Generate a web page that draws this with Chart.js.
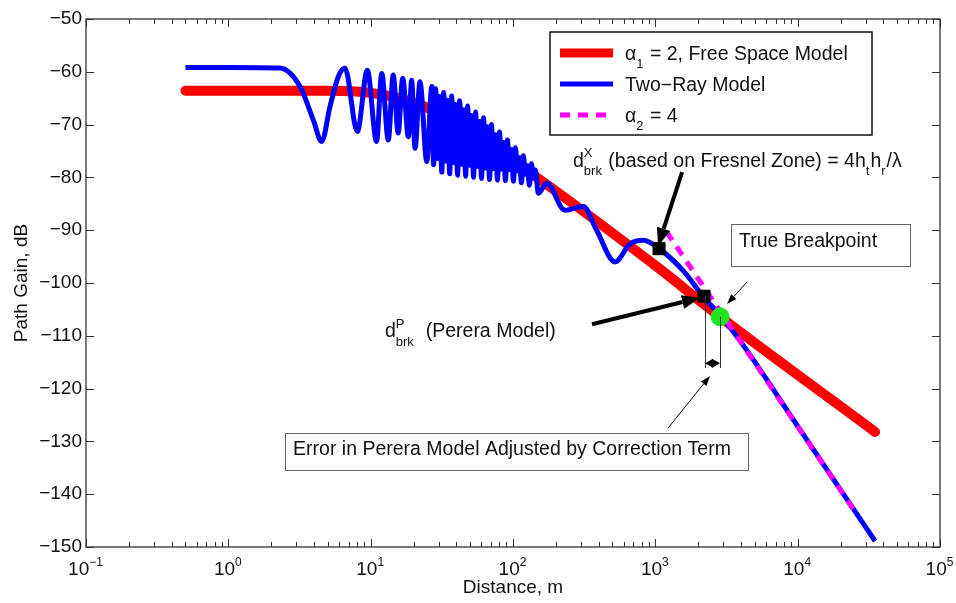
<!DOCTYPE html>
<html>
<head>
<meta charset="utf-8">
<script src="https://cdn.jsdelivr.net/npm/chart.js@4.4.1/dist/chart.umd.min.js"></script>
<style>
  html, body { margin: 0; padding: 0; background: #fff; }
  #wrap { width: 956px; height: 603px; }
</style>
</head>
<body>
<div id="wrap"><canvas id="gainChart" width="956" height="603"></canvas></div>
<script>
/************ DATA ************/
const FONT = '"Liberation Sans", Arial, Helvetica, sans-serif';

// free space model (alpha1 = 2)
const freeSpaceDist = [0.5, 2, 5, 10, 20, 30, 50, 100, 1000, 2850, 35000];
const freeSpaceGain = [-63.6, -63.6, -63.6, -64.0, -65.8, -67.8, -71.5, -76.8, -96.7, -106.4, -128.2];

// two-ray model
const twoRayDist = [
  0.5, 1, 2.3, 3.19, 3.95, 4.53, 5.18, 5.93, 6.6, 8.06, 9.47, 11.0, 11.96, 13.3,
  14.4, 15.6, 16.8, 18.4, 19.4, 20.5, 22.2, 24.8, 26.9,
  27.7, 28.6, 29.6, 30.5, 31.6, 32.6, 33.7, 34.8, 35.9, 37.1, 38.3, 39.5, 40.8, 42.2,
  43.6, 45.0, 46.5, 48.0, 49.5, 51.2, 52.8, 54.6, 56.4, 58.2, 60.1, 62.1, 64.1, 66.2,
  68.4, 70.6, 72.9, 75.3, 77.8, 80.4, 83.0, 85.7, 88.5, 91.4, 94.4, 97.5, 100.7, 104.0,
  107.4, 110.9, 114.6, 118.3, 122.2, 126.2, 130.3, 134.6, 139.0, 143.6, 150.7,
  172.6, 231.7, 311.9, 387, 521, 664, 824, 1052, 1585, 2173, 2850, 4000, 10000, 35000
];
const twoRayGain = [
  -59.2, -59.2, -59.3, -62.8, -69.1, -73.2, -66.6, -60.9, -59.3, -71.3, -59.7, -73.2, -60.3, -72.9,
  -60.6, -71.6, -61.2, -72.3, -61.6, -74.5, -61.9, -77.0, -62.8,
  -77.6, -63.2, -76.4, -64.7, -79.0, -63.9, -76.9, -65.4, -79.3, -64.6, -77.2, -66.2, -79.6, -65.5,
  -77.5, -67.2, -79.8, -66.5, -77.7, -68.3, -80.0, -67.6, -77.9, -69.4, -80.2, -68.7, -78.2, -70.4,
  -80.4, -70.0, -78.3, -71.9, -80.5, -71.4, -78.4, -73.4, -80.6, -72.9, -78.5, -74.7, -80.7, -74.4,
  -78.8, -76.3, -81.0, -75.9, -79.4, -77.8, -81.5, -77.4, -80.1, -78.6, -83.0,
  -81.1, -86.2, -85.5, -90.0, -96.0, -92.6, -91.9, -93.4, -97.8, -102.6, -106.1, -111.2, -127.1, -148.9
];

// alpha2 = 4 slope
const alpha4Dist = [1200, 25000];
const alpha4Gain = [-90.3, -143.1];

// breakpoint markers
const brkDist = [1062, 2198];
const brkGain = [-93.5, -102.5];
const trueBrkDist = [2850];
const trueBrkGain = [-106.4];

// axes
const xMajorTicks = [0.1, 1, 10, 100, 1000, 10000, 100000];
const xTickExp = ['\u22121', '0', '1', '2', '3', '4', '5'];
const yTicks = [-150, -140, -130, -120, -110, -100, -90, -80, -70, -60, -50];

const xTickValues = [];
xMajorTicks.forEach((v, i) => {
  xTickValues.push(v);
  if (i < xMajorTicks.length - 1) {
    for (let m = 2; m <= 9; m++) xTickValues.push(+(v * m).toPrecision(3));
  }
});

/************ ANNOTATIONS (data coords) ************/
const NOTE_SIZE = 19.5;
const textLabels = [
  { x: 264, y: -78.0, segs: [{ t: 'd' }, { sup: 'X', sub: 'brk' }, { t: ' (based on Fresnel Zone) = 4h' }, { sub: 't' }, { t: 'h' }, { sub: 'r' }, { t: '/λ' }] },
  { x: 12.6, y: -110.3, segs: [{ t: 'd' }, { sup: 'P', sub: 'brk' }, { t: '  (Perera Model)' }] },
  { x: 3873, y: -93.2, segs: [{ t: 'True Breakpoint' }], box: [3404, -88.8, 61500, -96.8] },
  { x: 2.85, y: -132.6, segs: [{ t: 'Error in Perera Model Adjusted by Correction Term' }], box: [2.5, -128.4, 4477, -135.4] },
];
const arrows = [
  { from: [1542, -79.0], to: [1045, -93.0], w: 4, head: 18, hw: 14 },
  { from: [359, -107.8], to: [2061, -102.8], w: 4, head: 18, hw: 14 },
  { from: [4406, -99.8], to: [3192, -104.0], w: 1, head: 10, hw: 7 },
  { from: [1228, -127.5], to: [2421, -117.6], w: 1, head: 10, hw: 7 },
  { from: [2540, -115.2], to: [2234, -115.2], w: 1, head: 8, hw: 9 },
  { from: [2540, -115.2], to: [2850, -115.2], w: 1, head: 8, hw: 9 },
];
const guides = [
  [[2234, -102.5], [2234, -116.1]],
  [[2850, -106.4], [2850, -116.1]],
];

const pts = (xs, ys) => xs.map((x, i) => ({ x, y: ys[i] }));

/************ HELPERS ************/
function drawRich(ctx, segs, x, y, size, measureOnly) {
  let cx = x;
  const big = size + 'px ' + FONT;
  const small = Math.round(size * 0.65) + 'px ' + FONT;
  ctx.textAlign = 'left';
  ctx.textBaseline = 'alphabetic';
  segs.forEach(s => {
    if (s.t !== undefined) {
      ctx.font = big;
      if (!measureOnly) ctx.fillText(s.t, cx, y);
      cx += ctx.measureText(s.t).width;
      return;
    }
    ctx.font = small;
    let w = 0;
    if (s.sup) {
      if (!measureOnly) ctx.fillText(s.sup, cx, y - size * 0.5);
      w = ctx.measureText(s.sup).width;
    }
    if (s.sub) {
      if (!measureOnly) ctx.fillText(s.sub, cx, y + size * 0.42);
      w = Math.max(w, ctx.measureText(s.sub).width);
    }
    cx += w + 1;
  });
  return cx - x;
}

function drawArrow(ctx, x0, y0, x1, y1, w, headLen, headW) {
  const ang = Math.atan2(y1 - y0, x1 - x0);
  const bx = x1 - headLen * Math.cos(ang);
  const by = y1 - headLen * Math.sin(ang);
  ctx.lineWidth = w;
  ctx.beginPath();
  ctx.moveTo(x0, y0);
  ctx.lineTo(bx, by);
  ctx.stroke();
  ctx.beginPath();
  ctx.moveTo(x1, y1);
  ctx.lineTo(bx + (headW / 2) * Math.sin(ang), by - (headW / 2) * Math.cos(ang));
  ctx.lineTo(bx - (headW / 2) * Math.sin(ang), by + (headW / 2) * Math.cos(ang));
  ctx.closePath();
  ctx.fill();
}

/************ PLUGINS ************/
const frameTicks = {
  id: 'frameTicks',
  afterDraw(chart) {
    const { ctx, chartArea: a, scales: { x, y } } = chart;
    ctx.save();
    ctx.strokeStyle = '#333';
    ctx.lineWidth = 1.3;
    ctx.strokeRect(a.left, a.top, a.right - a.left, a.bottom - a.top);
    ctx.lineWidth = 1;
    ctx.beginPath();
    x.ticks.forEach(t => {
      const px = Math.round(x.getPixelForValue(t.value)) + 0.5;
      const len = xMajorTicks.includes(t.value) ? 8 : 5;
      ctx.moveTo(px, a.bottom); ctx.lineTo(px, a.bottom - len);
      ctx.moveTo(px, a.top); ctx.lineTo(px, a.top + len);
    });
    y.ticks.forEach(t => {
      const py = Math.round(y.getPixelForValue(t.value)) + 0.5;
      ctx.moveTo(a.left, py); ctx.lineTo(a.left + 8, py);
      ctx.moveTo(a.right, py); ctx.lineTo(a.right - 8, py);
    });
    ctx.stroke();
    // x tick labels: 10 with superscript exponent
    ctx.fillStyle = '#111';
    xMajorTicks.forEach((v, i) => {
      const segs = [{ t: '10' }, { sup: xTickExp[i] }];
      const w = drawRich(ctx, segs, 0, 0, 19, true);
      drawRich(ctx, segs, x.getPixelForValue(v) - w / 2, a.bottom + 28, 19);
    });
    ctx.restore();
  }
};

const notes = {
  id: 'notes',
  afterDatasetsDraw(chart) {
    const { ctx, scales: { x, y } } = chart;
    const px = v => x.getPixelForValue(v);
    const py = v => y.getPixelForValue(v);
    ctx.save();
    ctx.strokeStyle = '#333';
    ctx.lineWidth = 1;
    guides.forEach(g => {
      ctx.beginPath();
      ctx.moveTo(Math.round(px(g[0][0])) + 0.5, py(g[0][1]));
      ctx.lineTo(Math.round(px(g[1][0])) + 0.5, py(g[1][1]));
      ctx.stroke();
    });
    ctx.strokeStyle = '#000';
    ctx.fillStyle = '#000';
    arrows.forEach(ar => {
      drawArrow(ctx, px(ar.from[0]), py(ar.from[1]), px(ar.to[0]), py(ar.to[1]), ar.w, ar.head, ar.hw);
    });
    textLabels.forEach(l => {
      if (l.box) {
        const bx0 = px(l.box[0]), by0 = py(l.box[1]), bx1 = px(l.box[2]), by1 = py(l.box[3]);
        ctx.fillStyle = '#fff';
        ctx.fillRect(bx0, by0, bx1 - bx0, by1 - by0);
        ctx.strokeStyle = '#666';
        ctx.lineWidth = 1;
        ctx.strokeRect(Math.round(bx0) + 0.5, Math.round(by0) + 0.5, Math.round(bx1 - bx0), Math.round(by1 - by0));
      }
      ctx.fillStyle = '#111';
      drawRich(ctx, l.segs, px(l.x), py(l.y), NOTE_SIZE);
    });
    ctx.restore();
  }
};

const legendBox = {
  id: 'legendBox',
  afterDraw(chart) {
    const { ctx, chartArea: a } = chart;
    const w = 322, h = 103;
    const right = a.right - 68, top = a.top + 13, left = right - w;
    ctx.save();
    ctx.fillStyle = '#fff';
    ctx.fillRect(left, top, w, h);
    ctx.strokeStyle = '#111';
    ctx.lineWidth = 1.5;
    ctx.strokeRect(left, top, w, h);
    chart.data.datasets.filter(d => d.legendSegs).forEach((d, i) => {
      const yy = top + 21 + i * 31;
      ctx.strokeStyle = d.borderColor;
      ctx.lineWidth = d.legendWidth || d.borderWidth;
      ctx.setLineDash(d.borderDash || []);
      ctx.lineCap = 'butt';
      ctx.beginPath();
      ctx.moveTo(left + 10, yy);
      ctx.lineTo(left + 63, yy);
      ctx.stroke();
      ctx.setLineDash([]);
      ctx.fillStyle = '#111';
      drawRich(ctx, d.legendSegs, left + 75, yy + 7, 19.5);
    });
    ctx.restore();
  }
};

/************ CHART ************/
const gainCtx = document.getElementById('gainChart').getContext('2d');
const gainChart = new Chart(gainCtx, {
  type: 'line',
  data: {
    datasets: [
      {
        label: 'α₁ = 2, Free Space Model',
        legendSegs: [{ t: 'α' }, { sub: '1' }, { t: ' = 2, Free Space Model' }],
        data: pts(freeSpaceDist, freeSpaceGain),
        borderColor: '#ff0000',
        borderWidth: 10,
        legendWidth: 9,
        borderCapStyle: 'round',
        borderJoinStyle: 'round',
        pointRadius: 0,
        cubicInterpolationMode: 'monotone',
        order: 3,
      },
      {
        label: 'Two−Ray Model',
        legendSegs: [{ t: 'Two−Ray Model' }],
        data: pts(twoRayDist, twoRayGain),
        borderColor: '#0000ff',
        borderWidth: 5,
        borderCapStyle: 'butt',
        borderJoinStyle: 'round',
        pointRadius: 0,
        cubicInterpolationMode: 'monotone',
        order: 2,
      },
      {
        label: 'α₂ = 4',
        legendSegs: [{ t: 'α' }, { sub: '2' }, { t: ' = 4' }],
        data: pts(alpha4Dist, alpha4Gain),
        borderColor: '#ff00ff',
        borderWidth: 5,
        borderDash: [10, 8],
        pointRadius: 0,
        order: 1,
      },
      {
        label: 'breakpoints',
        data: pts(brkDist, brkGain),
        showLine: false,
        pointStyle: 'rect',
        pointRadius: 8.5,
        pointBackgroundColor: '#000',
        pointBorderColor: '#000',
        order: 0,
      },
      {
        label: 'true breakpoint',
        data: pts(trueBrkDist, trueBrkGain),
        showLine: false,
        pointStyle: 'circle',
        pointRadius: 9,
        pointBackgroundColor: '#1ee61e',
        pointBorderColor: '#1ee61e',
        order: 0,
      },
    ],
  },
  options: {
    responsive: false,
    animation: false,
    devicePixelRatio: 1,
    layout: { padding: { left: 0, right: 16, top: 19, bottom: 0 } },
    plugins: {
      legend: { display: false },
      tooltip: { enabled: false },
    },
    scales: {
      x: {
        type: 'logarithmic',
        min: 0.1,
        max: 100000,
        afterBuildTicks: s => { s.ticks = xTickValues.map(v => ({ value: v })); },
        afterFit: s => { s.height = 56; s.paddingLeft = 0; s.paddingRight = 0; },
        grid: { display: false, drawTicks: false },
        border: { display: false },
        ticks: { display: false },
        title: {
          display: true,
          text: 'Distance, m',
          color: '#111',
          font: { family: FONT, size: 19 },
          padding: { top: 0, bottom: 4 },
        },
      },
      y: {
        min: -150,
        max: -50,
        afterBuildTicks: s => { s.ticks = yTicks.map(v => ({ value: v })); },
        afterFit: s => { s.width = 86; },
        grid: { display: false, drawTicks: false },
        border: { display: false },
        ticks: {
          padding: 4,
          color: '#111',
          font: { family: FONT, size: 19 },
          callback: v => (v < 0 ? '\u2212' : '') + Math.abs(v),
        },
        title: {
          display: true,
          text: 'Path Gain, dB',
          color: '#111',
          font: { family: FONT, size: 19 },
          padding: { top: 10, bottom: 0 },
        },
      },
    },
  },
  plugins: [frameTicks, notes, legendBox],
});
</script>
</body>
</html>
